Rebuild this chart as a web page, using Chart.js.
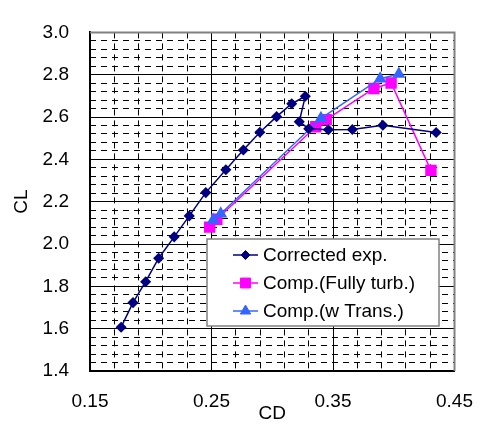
<!DOCTYPE html>
<html>
<head>
<meta charset="utf-8">
<script src="https://cdn.jsdelivr.net/npm/chart.js@4/dist/chart.umd.min.js"></script>
<style>
  html, body { margin: 0; padding: 0; background: #fff; }
</style>
</head>
<body>
<canvas id="polarChart" width="492" height="424"></canvas>
<script>
// Corrected experiment
const expCD = [0.1756, 0.1854, 0.1958, 0.2065, 0.2193, 0.2317, 0.2453, 0.2618, 0.2762, 0.2898, 0.3036, 0.3160, 0.3272, 0.3222, 0.3300, 0.3462, 0.3659, 0.3910, 0.4349];
const expCL = [1.607, 1.723, 1.822, 1.933, 2.034, 2.133, 2.243, 2.351, 2.444, 2.528, 2.602, 2.663, 2.698, 2.578, 2.545, 2.540, 2.541, 2.561, 2.527];

// Computation, fully turbulent
const turbCD = [0.2485, 0.2544, 0.3358, 0.3444, 0.3837, 0.3978, 0.4306];
const turbCL = [2.080, 2.117, 2.554, 2.588, 2.735, 2.761, 2.348];

// Computation with transition
const transCD = [0.2514, 0.2576, 0.3401, 0.3888, 0.4042];
const transCL = [2.113, 2.143, 2.594, 2.781, 2.803];

const seriesNames = ['Corrected exp.', 'Comp.(Fully turb.)', 'Comp.(w Trans.)'];
const xTicks = [0.15, 0.25, 0.35, 0.45];
const yTicks = [1.4, 1.6, 1.8, 2.0, 2.2, 2.4, 2.6, 2.8, 3.0];

const FONT = "'Liberation Sans', Arial, sans-serif";
const FSIZE = 19;

// minor grid positions (every 0.02 on x, 0.04 on y)
const xMinor = [];
for (let i = 0; i <= 15; i++) xMinor.push(+(0.15 + i * 0.02).toFixed(2));
const yMinor = [];
for (let i = 0; i <= 40; i++) yMinor.push(+(1.4 + i * 0.04).toFixed(2));

function toPoints(xs, ys) {
  return xs.map((x, i) => ({ x: x, y: ys[i] }));
}

// gray frame on top/right of plot area
const plotFrame = {
  id: 'plotFrame',
  beforeDatasetsDraw(chart) {
    const { ctx, chartArea: a } = chart;
    ctx.save();
    ctx.strokeStyle = '#808080';
    ctx.lineWidth = 2;
    ctx.beginPath();
    ctx.moveTo(a.left, a.top);
    ctx.lineTo(a.right, a.top);
    ctx.lineTo(a.right, a.bottom);
    ctx.stroke();
    ctx.restore();
  }
};

// legend box inside the plot
const legendBox = {
  id: 'legendBox',
  afterDatasetsDraw(chart) {
    const ctx = chart.ctx;
    const bx = 207, by = 239, bw = 232, bh = 87;
    ctx.save();
    ctx.fillStyle = '#fff';
    ctx.fillRect(bx, by, bw, bh);
    ctx.strokeStyle = '#808080';
    ctx.lineWidth = 1.5;
    ctx.strokeRect(bx, by, bw, bh);
    chart.data.datasets.forEach((ds, i) => {
      const cy = by + 16 + i * 28;
      ctx.strokeStyle = ds.borderColor;
      ctx.lineWidth = 1.5;
      ctx.beginPath();
      ctx.moveTo(bx + 26, cy);
      ctx.lineTo(bx + 51, cy);
      ctx.stroke();
      ctx.fillStyle = ds.backgroundColor;
      ctx.strokeStyle = ds.borderColor;
      ctx.lineWidth = 1;
      Chart.helpers.drawPoint(ctx, { pointStyle: ds.pointStyle, radius: ds.pointRadius, borderWidth: 1, rotation: 0 }, bx + 38.5, cy);
      ctx.fillStyle = '#000';
      ctx.font = FSIZE + 'px ' + FONT;
      ctx.textBaseline = 'middle';
      ctx.textAlign = 'left';
      ctx.fillText(ds.label, bx + 56, cy + 1);
    });
    ctx.restore();
  }
};

const ctx = document.getElementById('polarChart').getContext('2d');
new Chart(ctx, {
  type: 'scatter',
  data: {
    datasets: [
      {
        label: seriesNames[0],
        data: toPoints(expCD, expCL),
        borderColor: '#000080',
        backgroundColor: '#000080',
        pointStyle: 'rectRot',
        pointRadius: 4.5,
        borderWidth: 1.5,
        showLine: true,
        order: 0
      },
      {
        label: seriesNames[1],
        data: toPoints(turbCD, turbCL),
        borderColor: '#FF00FF',
        backgroundColor: '#FF00FF',
        pointStyle: 'rect',
        pointRadius: 7,
        borderWidth: 1.5,
        showLine: true,
        order: 2
      },
      {
        label: seriesNames[2],
        data: toPoints(transCD, transCL),
        borderColor: '#3366FF',
        backgroundColor: '#3366FF',
        pointStyle: 'triangle',
        pointRadius: 6,
        borderWidth: 1.5,
        showLine: true,
        order: 1
      }
    ]
  },
  options: {
    responsive: false,
    animation: false,
    devicePixelRatio: 1,
    layout: { padding: { left: 0, top: 16, right: 26, bottom: 0 } },
    plugins: {
      legend: { display: false },
      tooltip: { enabled: false }
    },
    elements: { line: { tension: 0 } },
    scales: {
      xMinor: {
        type: 'linear', position: 'bottom', min: 0.15, max: 0.45, z: -1,
        afterBuildTicks: s => { s.ticks = xMinor.map(v => ({ value: v })); },
        ticks: { display: false },
        grid: { color: '#000', lineWidth: 1, drawTicks: false },
        border: { display: false, dash: [6, 5] }
      },
      yMinor: {
        type: 'linear', position: 'left', min: 1.4, max: 3.0, z: -1,
        afterBuildTicks: s => { s.ticks = yMinor.map(v => ({ value: v })); },
        ticks: { display: false },
        grid: { color: '#000', lineWidth: 1, drawTicks: false },
        border: { display: false, dash: [6, 5] }
      },
      x: {
        type: 'linear', min: 0.15, max: 0.45,
        afterBuildTicks: s => { s.ticks = xTicks.map(v => ({ value: v })); },
        afterFit: s => { s.height = 53; },
        ticks: {
          color: '#000', padding: 19, maxRotation: 0,
          font: { family: FONT, size: FSIZE },
          callback: v => v.toFixed(2)
        },
        grid: { color: '#000', lineWidth: 1, drawTicks: false },
        border: { color: '#000', width: 2 },
        title: {
          display: true, text: 'CD', color: '#000',
          font: { family: FONT, size: FSIZE }, padding: { top: 0, bottom: -1 }
        }
      },
      y: {
        type: 'linear', min: 1.4, max: 3.0,
        afterBuildTicks: s => { s.ticks = yTicks.map(v => ({ value: v })); },
        afterFit: s => { s.width = 90; },
        ticks: {
          color: '#000', padding: 21,
          font: { family: FONT, size: FSIZE },
          callback: v => v.toFixed(1)
        },
        grid: { color: '#000', lineWidth: 1, drawTicks: false },
        border: { color: '#000', width: 2 },
        title: {
          display: true, text: 'CL', color: '#000',
          font: { family: FONT, size: FSIZE }, padding: { top: 10, bottom: 0 }
        }
      }
    }
  },
  plugins: [plotFrame, legendBox]
});
</script>
</body>
</html>
